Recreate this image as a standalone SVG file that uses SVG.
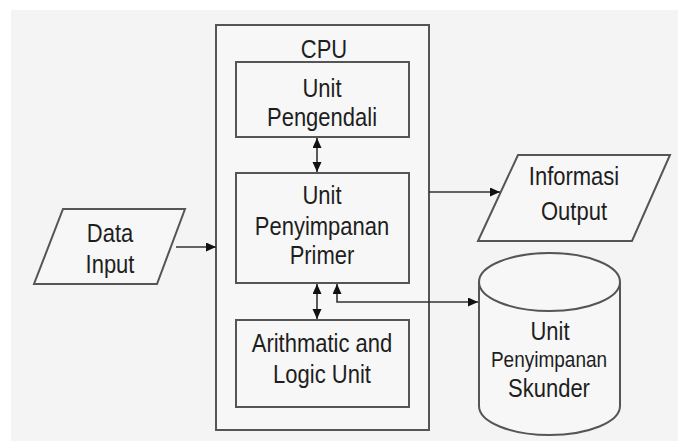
<svg xmlns="http://www.w3.org/2000/svg" width="678" height="441" viewBox="0 0 678 441">
<style>
.shape{fill:#f7f7f7;stroke:#555;stroke-width:2}
.conn{fill:none;stroke:#333;stroke-width:1.6}
.t{font-family:"Liberation Sans",Arial,sans-serif;font-size:22px;fill:#1e1e1e;text-anchor:middle}
.s{font-size:19px}
</style>
<defs>
<marker id="ah" markerUnits="userSpaceOnUse" markerWidth="11" markerHeight="10" refX="10" refY="4.5" orient="auto-start-reverse">
<path d="M0,0 L10,4.5 L0,9 z" fill="#111"/>
</marker>
</defs>
<rect x="0" y="0" width="678" height="441" fill="#ffffff"/>
<rect x="11" y="10" width="667" height="431" fill="#f4f4f4"/>
<g id="cpu">
<rect class="shape" x="216" y="25" width="213" height="405"/>
<text class="t" transform="translate(324,58) scale(1,1.2)">CPU</text>
</g>
<g id="pengendali">
<rect class="shape" x="236" y="62" width="173" height="75"/>
<text class="t" transform="translate(322,97) scale(1,1.2)">Unit</text>
<text class="t" transform="translate(322,126) scale(1,1.2)">Pengendali</text>
</g>
<g id="primer">
<rect class="shape" x="236" y="173" width="173" height="110"/>
<text class="t" transform="translate(322,204) scale(1,1.2)">Unit</text>
<text class="t" transform="translate(322,235) scale(1,1.2)">Penyimpanan</text>
<text class="t" transform="translate(322,264) scale(1,1.2)">Primer</text>
</g>
<g id="alu">
<rect class="shape" x="236" y="320" width="173" height="87"/>
<text class="t" transform="translate(322,352) scale(1,1.2)">Arithmatic and</text>
<text class="t" transform="translate(322,383) scale(1,1.2)">Logic Unit</text>
</g>
<g id="datainput">
<polygon class="shape" points="63,209 185,209 157,284 34,284"/>
<text class="t" transform="translate(110,242) scale(1,1.2)">Data</text>
<text class="t" transform="translate(110,273) scale(1,1.2)">Input</text>
</g>
<g id="informasi">
<polygon class="shape" points="518,155 670,155 632,241 478,241"/>
<text class="t" transform="translate(574,185) scale(1,1.2)">Informasi</text>
<text class="t" transform="translate(574,220) scale(1,1.2)">Output</text>
</g>
<g id="skunder">
<path class="shape" d="M479,282 L479,406 A70.5,29 0 0 0 620,406 L620,282"/>
<ellipse class="shape" cx="549.5" cy="282" rx="70.5" ry="29"/>
<text class="t" transform="translate(550,340) scale(1,1.2)">Unit</text>
<text class="t s" transform="translate(549,367) scale(1,1.2)">Penyimpanan</text>
<text class="t" transform="translate(549,397) scale(1,1.2)">Skunder</text>
</g>
<g id="connectors">
<path class="conn" d="M176,247 L216,247" marker-end="url(#ah)"/>
<path class="conn" d="M429,192 L500,192" marker-end="url(#ah)"/>
<path class="conn" d="M317,138 L317,172" marker-start="url(#ah)" marker-end="url(#ah)"/>
<path class="conn" d="M317,284 L317,319" marker-start="url(#ah)" marker-end="url(#ah)"/>
<path class="conn" d="M337,284 L337,302 L478,302" marker-start="url(#ah)" marker-end="url(#ah)"/>
</g>
</svg>
